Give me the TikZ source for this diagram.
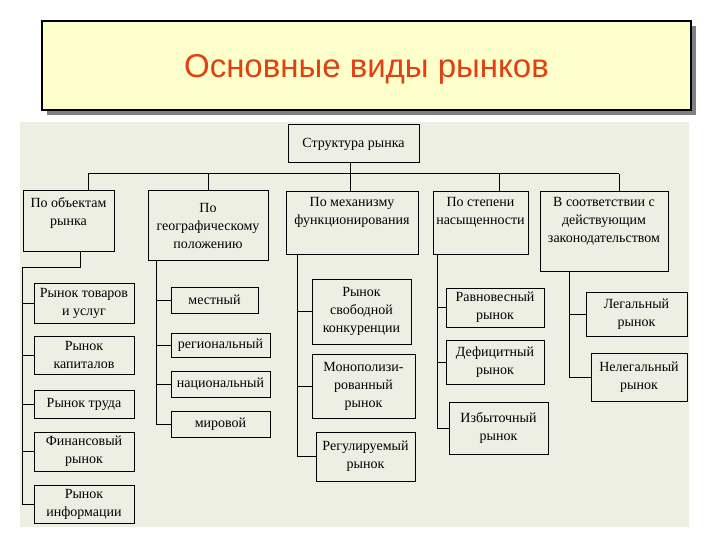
\documentclass[tikz,border=0pt]{standalone}
\usepackage{fontspec}
\setmainfont{Liberation Serif}
\newfontfamily\titlefont{Liberation Sans}
\usetikzlibrary{shadows}

\definecolor{titlefill}{RGB}{255,255,204}
\definecolor{titletext}{RGB}{226,64,16}
\definecolor{panelfill}{RGB}{237,239,227}
\definecolor{shadowgray}{RGB}{128,128,128}

\begin{document}
\begin{tikzpicture}
[every node/.style={inner sep=3pt},
 box/.style={draw=black, line width=1pt, align=center, font=\fontsize{14pt}{18pt}\selectfont},
 headtop/.style={inner ysep=6pt},
 link/.style={line width=1pt, draw=black}]
\useasboundingbox (0pt,0pt) rectangle (720pt,-540pt);
\fill[white] (0pt,0pt) rectangle (720pt,-540pt);

% title
\node (title) [draw=black, line width=1.2pt, fill=titlefill, minimum width=649pt, minimum height=89pt,
  drop shadow={shadow xshift=5pt, shadow yshift=-5pt, fill=shadowgray, opacity=1},
  text depth=0pt, font=\titlefont\fontsize{33pt}{36pt}\selectfont, text=titletext] at (366.5pt, -65.5pt) {Основные виды рынков};

% panel
\fill[panelfill] (20pt,-122pt) rectangle (689pt,-527pt);

% top level
\node (root) [box, minimum width=131pt, minimum height=38pt] at (353.5pt, -144pt) {Структура рынка};
\node (k1) [box, headtop, text depth=20pt, minimum width=91pt] at (68.5pt, -221pt) {По объектам\\рынка};
\node (k2) [box, minimum width=120pt, minimum height=69pt] at (208pt, -225.5pt) {По\\географическому\\положению};
\node (k3) [box, headtop, text depth=24.5pt, minimum width=132pt] at (352pt, -223pt) {По механизму\\функционирования};
\node (k4) [box, headtop, text depth=24.5pt, minimum width=95pt] at (480.5pt, -223pt) {По степени\\насыщенности};
\node (k5) [box, headtop, text depth=23.5pt, minimum width=128pt] at (604pt, -231.5pt) {В соответствии с\\действующим\\законодательством};

% by objects
\node (o1) [box, minimum width=100pt, minimum height=40pt] at (84pt, -303pt) {Рынок товаров\\и услуг};
\node (o2) [box, minimum width=100pt, minimum height=38pt] at (84pt, -355pt) {Рынок\\капиталов};
\node (o3) [box, minimum width=100pt, minimum height=28pt] at (84pt, -404pt) {Рынок труда};
\node (o4) [box, minimum width=100pt, minimum height=39pt] at (84pt, -451.5pt) {Финансовый\\рынок};
\node (o5) [box, minimum width=100pt, minimum height=38pt] at (84pt, -504pt) {Рынок\\информации};

% by geography
\node (g1) [box, minimum width=87pt, minimum height=26pt] at (214.5pt, -300pt) {местный};
\node (g2) [box, minimum width=99pt, minimum height=24pt] at (220.5pt, -345pt) {региональный};
\node (g3) [box, minimum width=99pt, minimum height=26pt] at (220.5pt, -384pt) {национальный};
\node (g4) [box, minimum width=99pt, minimum height=26pt] at (220.5pt, -424pt) {мировой};

% by mechanism
\node (m1) [box, minimum width=99pt, minimum height=65pt] at (361.5pt, -311.5pt) {Рынок\\свободной\\конкуренции};
\node (m2) [box, minimum width=103pt, minimum height=64pt] at (363.5pt, -386pt) {Монополизи-\\рованный\\рынок};
\node (m3) [box, minimum width=99pt, minimum height=49pt] at (365.5pt, -456.5pt) {Регулируемый\\рынок};

% by saturation
\node (n1) [box, minimum width=98pt, minimum height=39pt] at (495pt, -307.5pt) {Равновесный\\рынок};
\node (n2) [box, minimum width=98pt, minimum height=44pt] at (495pt, -362pt) {Дефицитный\\рынок};
\node (n3) [box, minimum width=99pt, minimum height=52pt] at (498.5pt, -428pt) {Избыточный\\рынок};

% by law
\node (l1) [box, minimum width=101pt, minimum height=44pt] at (636.5pt, -314pt) {Легальный\\рынок};
\node (l2) [box, minimum width=96pt, minimum height=48pt] at (639pt, -377pt) {Нелегальный\\рынок};

% bus
\coordinate (t0) at (350pt, -174pt);
\coordinate (t1) at (88pt, -174pt);
\coordinate (t2) at (208pt, -174pt);
\coordinate (t3) at (350pt, -174pt);
\coordinate (t4) at (499pt, -174pt);
\coordinate (t5) at (619pt, -174pt);
\draw [link] (t0 |- root.south) -- (t0);
\draw [link] (t1) -- (t5);
\foreach \t/\k in {t1/k1, t2/k2, t3/k3, t4/k4, t5/k5}
  \draw [link] (\t) -- (\t |- \k.north);

% branches
\coordinate (j1) at (80pt, -267pt);
\coordinate (s1) at (22pt, -267pt);
\draw [link] (j1 |- k1.south) -- (j1) -- (s1) |- (o5.west);
\foreach \o in {o1, o2, o3, o4}
  \draw [link] (s1 |- \o.west) -- (\o.west);

\coordinate (s2) at (156pt, -260pt);
\draw [link] (s2 |- k2.south) |- (g4.west);
\foreach \g in {g1, g2, g3}
  \draw [link] (s2 |- \g.west) -- (\g.west);

\coordinate (s3) at (297pt, -255pt);
\draw [link] (s3 |- k3.south) |- (m3.west);
\foreach \m in {m1, m2}
  \draw [link] (s3 |- \m.west) -- (\m.west);

\coordinate (s4) at (437pt, -255pt);
\draw [link] (s4 |- k4.south) |- (n3.west);
\foreach \n in {n1, n2}
  \draw [link] (s4 |- \n.west) -- (\n.west);

\coordinate (s5) at (569pt, -272pt);
\draw [link] (s5 |- k5.south) |- (l2.west);
\draw [link] (s5 |- l1.west) -- (l1.west);
\end{tikzpicture}
\end{document}
